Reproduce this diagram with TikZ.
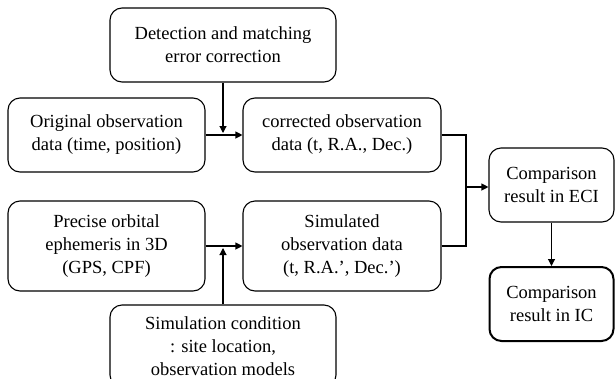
\documentclass[tikz,border=0pt]{standalone}
\usepackage{fontspec}
\setmainfont{Liberation Serif}
\usetikzlibrary{arrows.meta,calc}
\begin{document}
\begin{tikzpicture}[x=1pt,y=-1pt,
  box/.style={draw, line width=1.1pt, rounded corners=12pt, align=center,
    inner sep=0pt, font=\fontsize{18.5}{23}\selectfont},
  thickbox/.style={box, line width=2pt},
  conn/.style={line width=1.1pt},
  arr/.style={conn, -{Triangle[length=7pt,width=7pt]}}]
\useasboundingbox (0,0) rectangle (615,378);
\clip (0,0) rectangle (615,378);
\node[box, minimum width=226pt, minimum height=74pt] (det) at (223,45) {Detection and matching\\error correction};
\node[box, minimum width=197pt, minimum height=74pt] (orig) at (106.5,135) {Original observation\\data (time, position)};
\node[box, minimum width=198pt, minimum height=74pt] (corr) at (342,135) {corrected observation\\data (t, R.A., Dec.)};
\node[box, minimum width=197pt, minimum height=90pt] (prec) at (106.5,246) {Precise orbital\\ephemeris in 3D\\(GPS, CPF)};
\node[box, minimum width=198pt, minimum height=90pt] (sim) at (342,246) {Simulated\\observation data\\(t, R.A.', Dec.')};
\node[box, minimum width=226pt, minimum height=82pt] (simc) at (223,346) {Simulation condition\\: site location,\\observation models};
\node[box, minimum width=125pt, minimum height=74pt] (eci) at (551.5,185) {Comparison\\result in ECI};
\node[thickbox, minimum width=124pt, minimum height=74pt] (ic) at (551.5,304) {Comparison\\result in IC};
\coordinate (m1) at (223,133);
\coordinate (m2) at (223,248);
\coordinate (jn) at (466,187);
\draw[arr] (orig.east) -- (corr.west);
\draw[arr] (det.south) -- (m1);
\draw[arr] (prec.east) -- (sim.west);
\draw[arr] (simc.north) -- (m2);
\draw[conn] (corr.east) -| (jn);
\draw[conn] (sim.east) -| (jn);
\draw[arr] (jn) -- (jn -| eci.west);
\draw[arr] (eci.south) -- (ic.north);
\end{tikzpicture}
\end{document}
